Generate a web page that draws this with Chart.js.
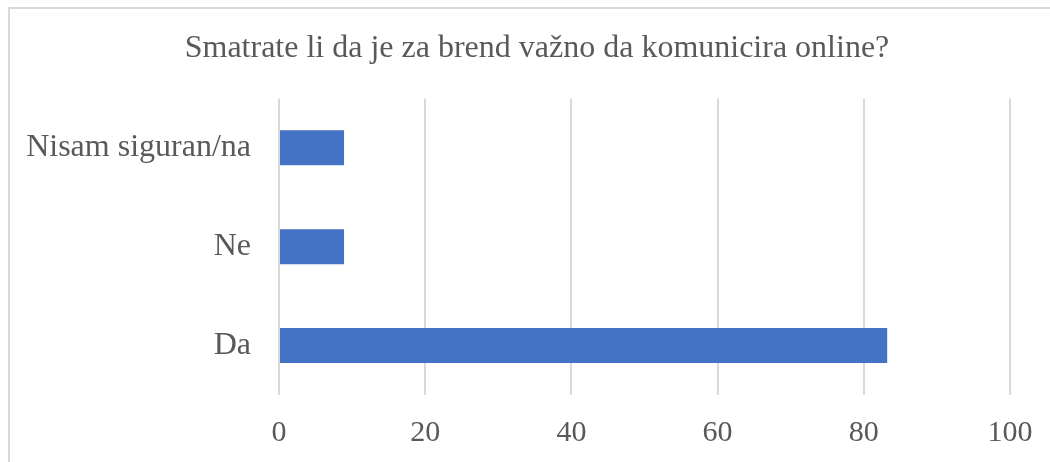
<!DOCTYPE html>
<html>
<head>
<meta charset="utf-8">
<script src="https://cdn.jsdelivr.net/npm/chart.js@4"></script>
<style>
html,body{margin:0;padding:0;background:#fff;}
#wrap{position:relative;width:1050px;height:462px;overflow:hidden;}
#frame{position:absolute;left:8px;top:7px;width:1100px;height:500px;border:2px solid #d9d9d9;box-sizing:border-box;pointer-events:none;}
canvas{position:absolute;left:0;top:0;}
</style>
</head>
<body>
<div id="wrap">
<canvas id="c" width="1050" height="462"></canvas>
<div id="frame"></div>
</div>
<script>
const titleText = 'Smatrate li da je za brend važno da komunicira online?';
const categories = ['Nisam siguran/na', 'Ne', 'Da'];
const values = [8.9, 8.9, 83.2];
const xTicks = [0, 20, 40, 60, 80, 100];

const FONT = "'Liberation Serif', 'Times New Roman', serif";
const GREY = '#595959';

new Chart(document.getElementById('c'), {
  type: 'bar',
  data: {
    labels: categories,
    datasets: [{
      data: values,
      backgroundColor: '#4472C4',
      borderWidth: 0,
      categoryPercentage: 1,
      barPercentage: 0.354
    }]
  },
  options: {
    indexAxis: 'y',
    responsive: false,
    animation: false,
    layout: { padding: { left: 24, right: 0, top: 0, bottom: 0 } },
    plugins: {
      legend: { display: false },
      tooltip: { enabled: false },
      title: {
        display: true,
        text: titleText,
        color: GREY,
        font: { family: FONT, size: 32, weight: 'normal' },
        padding: { top: 29, bottom: 31 }
      }
    },
    scales: {
      x: {
        min: xTicks[0],
        max: xTicks[xTicks.length - 1],
        afterBuildTicks: s => { s.ticks = xTicks.map(v => ({ value: v })); },
        afterFit: s => { s.height = 67; s.paddingRight = 40; },
        grid: { color: '#d9d9d9', lineWidth: 2, drawTicks: false },
        border: { display: false },
        ticks: { color: GREY, font: { family: FONT, size: 30 }, padding: 20 }
      },
      y: {
        afterFit: s => { s.width = 279 - 24; },
        grid: { display: false, drawTicks: false },
        border: { display: false },
        ticks: { color: GREY, font: { family: FONT, size: 32 }, padding: 28 }
      }
    }
  }
});
</script>
</body>
</html>
